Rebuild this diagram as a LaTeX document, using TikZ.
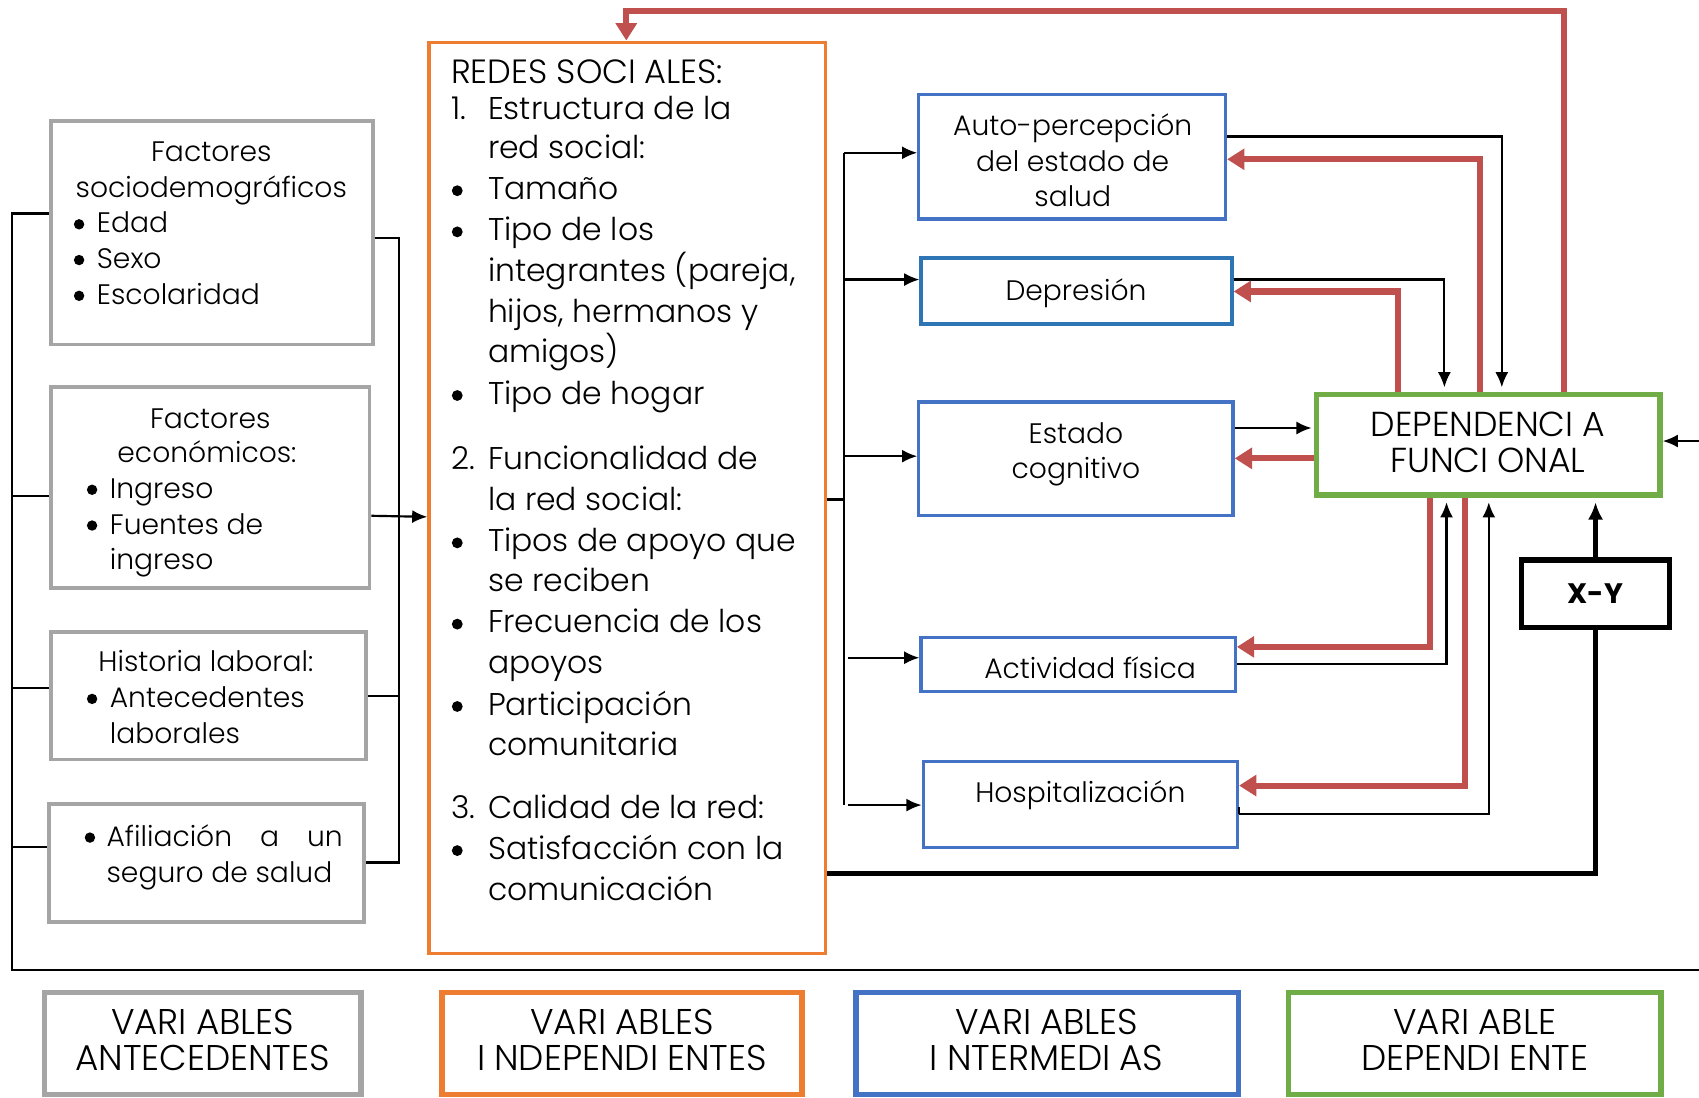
\documentclass[tikz,border=0pt]{standalone}
\usepackage{fontspec}
\setmainfont{Poppins}[UprightFont={* Light}, BoldFont={* Bold}]
\usetikzlibrary{arrows.meta,fit}
\definecolor{cgray}{HTML}{A5A5A5}
\definecolor{corange}{HTML}{ED7D31}
\definecolor{cblue}{HTML}{4472C4}
\definecolor{cbluetwo}{HTML}{2E75B6}
\definecolor{cgreen}{HTML}{70AD47}
\definecolor{cred}{HTML}{C0504D}
\newcommand\numL[1]{\llap{\makebox[17pt][l]{#1}}}
\begin{document}
\begin{tikzpicture}[x=0.5pt,y=-0.5pt,
  sfont/.style={font=\fontsize{13}{16}\selectfont},
  ofont/.style={font=\fontsize{14.5}{18}\selectfont},
  lt/.style={inner sep=0pt, anchor=base west, sfont},
  ct/.style={inner sep=0pt, anchor=base, sfont},
  olt/.style={inner sep=0pt, anchor=base west, ofont},
  grbox/.style={inner sep=0pt, draw=cgray, line width=1.75pt},
  orbox/.style={inner sep=0pt, draw=corange, line width=1.6pt},
  blbox/.style={inner sep=0pt, draw=cblue, line width=1.5pt},
  gnbox/.style={inner sep=0pt, draw=cgreen, line width=2.5pt},
  xybox/.style={inner sep=0pt, draw=black, line width=2.5pt},
  legtxt/.style={inner sep=0pt, anchor=base, font=\fontsize{16.5}{19}\selectfont},
  ln/.style={draw=black, line width=1pt},
  bk/.style={draw=black, line width=1pt, -{Latex[length=7pt,width=6pt]}},
  thk/.style={draw=black, line width=2.6pt},
  rd/.style={draw=cred, line width=2.8pt, -{Triangle[length=8pt,width=9.5pt]}},
  dot/.style={fill=black},
]
\useasboundingbox (0,0) rectangle (1568,1013);

% ---- antecedent boxes
\node[fit={(47,112)(344,318)}, grbox] (b1) {};
\node[fit={(47,357)(341,543)}, grbox] (b2) {};
\node[fit={(47,583)(338,701)}, grbox] (b3) {};
\node[fit={(45,742)(336,851)}, grbox] (b4) {};

\node[ct] (b1a) at (195,149) {Factores};
\node[ct] (b1b) at (195,182) {sociodemográficos};
\node[lt] (b1c) at (89,215) {Edad};
\node[lt] (b1d) at (89,248) {Sexo};
\node[lt] (b1e) at (89,281) {Escolaridad};
\foreach \yy in {207,240,273} \fill[dot] (73,\yy) circle[radius=2.4pt];

\node[ct] (b2a) at (194,395) {Factores};
\node[ct] (b2b) at (191,427) {económicos:};
\node[lt] (b2c) at (101,460) {Ingreso};
\node[lt] (b2d) at (101,493) {Fuentes de};
\node[lt] (b2e) at (101,526) {ingreso};
\foreach \yy in {452,485} \fill[dot] (85,\yy) circle[radius=2.4pt];

\node[ct] (b3a) at (190,620) {Historia laboral:};
\node[lt] (b3b) at (101,653) {Antecedentes};
\node[lt] (b3c) at (101,686) {laborales};
\fill[dot] (85,645) circle[radius=2.4pt];

\node[lt] (b4a) at (98,781) {\makebox[109pt][s]{Afiliación\hfill a\hfill un}};
\node[lt] (b4b) at (98,814) {seguro de salud};
\fill[dot] (83,773) circle[radius=2.4pt];

% ---- orange box
\node[fit={(396,39)(762,880)}, orbox] (orng) {};
\node[olt, font=\fontsize{15.5}{18}\selectfont] (o1) at (416,77) {REDES SOCI\hspace{0.25em}ALES:};
\node[olt] (o2) at (450,110) {\numL{1.}Estructura de la};
\node[olt] (o3) at (450,146) {red social:};
\node[olt] (o4) at (450,184) {Tamaño};
\node[olt] (o5) at (450,222) {Tipo de los};
\node[olt] (o6) at (450,260) {integrantes (pareja,};
\node[olt] (o7) at (450,298) {hijos, hermanos y};
\node[olt] (o8) at (450,335) {amigos)};
\node[olt] (o9) at (450,373) {Tipo de hogar};
\node[olt] (o10) at (450,433) {\numL{2.}Funcionalidad de};
\node[olt] (o11) at (450,471) {la red social:};
\node[olt] (o12) at (450,509) {Tipos de apoyo que};
\node[olt] (o13) at (450,546) {se reciben};
\node[olt] (o14) at (450,584) {Frecuencia de los};
\node[olt] (o15) at (450,622) {apoyos};
\node[olt] (o16) at (450,660) {Participación};
\node[olt] (o17) at (450,697) {comunitaria};
\node[olt] (o18) at (450,755) {\numL{3.}Calidad de la red:};
\node[olt] (o19) at (450,793) {Satisfacción con la};
\node[olt] (o20) at (450,831) {comunicación};
\foreach \yy in {176,214,365,501,576,652,785} \fill[dot] (422,\yy) circle[radius=2.5pt];

% ---- intermediate boxes
\node[fit={(848,87)(1131,202)}, blbox] (ap) {};
\node[fit={(850,238)(1137,299)}, blbox, draw=cbluetwo] (dp) {};
\node[fit={(848,371)(1138,476)}, blbox] (ec) {};
\node[fit={(850,588)(1140,638)}, blbox] (af) {};
\node[fit={(852,703)(1142,782)}, blbox] (ho) {};

\node[ct] (ap1) at (990,125) {Auto-percepción};
\node[ct] (ap2) at (990,158) {del estado de};
\node[ct] (ap3) at (990,191) {salud};
\node[ct] (dp1) at (993,277) {Depresión};
\node[ct] (ec1) at (993,409) {Estado};
\node[ct] (ec2) at (993,442) {cognitivo};
\node[ct] (af1) at (1006,626) {Actividad física};
\node[ct] (ho1) at (997,741) {Hospitalización};

% ---- dependent
\node[fit={(1215,364)(1532,457)}, gnbox] (df) {};
\node[legtxt, font=\fontsize{16}{19}\selectfont] (df1) at (1373,403) {DEPENDENCI\hspace{0.25em}A};
\node[legtxt, font=\fontsize{16}{19}\selectfont] (df2) at (1373,436) {FUNCI\hspace{0.25em}ONAL};

\node[fit={(1404,517)(1541,579)}, xybox] (xy) {};
\node[inner sep=0pt, font=\bfseries\fontsize{13}{16}\selectfont] (xyt) at (xy.center) {X-Y};

% ---- legend
\node[fit={(41,916)(333,1010)}, grbox, line width=2.6pt] (l1) {};
\node[fit={(408,916)(740,1010)}, orbox, line width=2.6pt] (l2) {};
\node[fit={(790,916)(1143,1010)}, blbox, line width=2.6pt] (l3) {};
\node[fit={(1189,916)(1533,1010)}, gnbox, line width=2.6pt] (l4) {};
\node[legtxt] (l1a) at (187,955) {VARI\hspace{0.25em}ABLES};
\node[legtxt] (l1b) at (187,988) {ANTECEDENTES};
\node[legtxt] (l2a) at (574,955) {VARI\hspace{0.25em}ABLES};
\node[legtxt] (l2b) at (574,988) {I\hspace{0.25em}NDEPENDI\hspace{0.25em}ENTES};
\node[legtxt] (l3a) at (966,955) {VARI\hspace{0.25em}ABLES};
\node[legtxt] (l3b) at (966,988) {I\hspace{0.25em}NTERMEDI\hspace{0.25em}AS};
\node[legtxt] (l4a) at (1361,955) {VARI\hspace{0.25em}ABLE};
\node[legtxt] (l4b) at (1361,988) {DEPENDI\hspace{0.25em}ENTE};

% ---- left bracket
\coordinate (spT) at (11,197);
\coordinate (spB) at (11,895);
\coordinate (edgeB) at (1568,895);
\draw[ln] (b1.west |- spT) -- (spT) -- (spB) -- (edgeB);
\draw[ln] (b2.west |- 0,458) -- (11,458);
\draw[ln] (b3.west |- 0,635) -- (11,635);
\draw[ln] (b4.west |- 0,782) -- (11,782);

% ---- right bracket
\coordinate (rbT) at (368,220);
\coordinate (rbB) at (368,796);
\draw[ln] (b1.east |- rbT) -- (rbT) -- (rbB) -- (b4.east |- rbB);
\draw[ln] (b3.east |- 0,642) -- (368,642);
\draw[bk] (b2.east |- 0,476) -- (orng.west |- 0,477);

% ---- orange to intermediates
\coordinate (obT) at (779,141);
\coordinate (obB) at (779,743);
\draw[ln] (orng.east |- 0,461) -- (779,461);
\draw[ln] (obT) -- (obB);
\draw[bk] (obT) -- (ap.west |- obT);
\draw[bk] (779,258) -- (dp.west |- 0,258);
\draw[bk] (779,421) -- (ec.west |- 0,421);
\draw[bk] (783,607) -- (af.west |- 0,607);
\draw[bk] (783,743) -- (ho.west |- 0,743);

% ---- feedback loops
\draw[bk, shorten >=2pt] (ap.east |- 0,126) -| (df.north -| 1386,0);
\draw[rd] (df.north -| 1366,0) |- (ap.east |- 0,147);
\draw[bk, shorten >=2pt] (dp.east |- 0,258) -| (df.north -| 1333,0);
\draw[rd] (df.north -| 1290,0) |- (dp.east |- 0,269);
\draw[bk, shorten >=1pt] (ec.east |- 0,395) -- (df.west |- 0,395);
\draw[rd] (df.west |- 0,423) -- (ec.east |- 0,423);
\draw[rd] (df.south -| 1320,0) |- (af.east |- 0,597);
\draw[bk, shorten >=2pt] (af.east |- 0,613) -| (df.south -| 1335,0);
\draw[rd] (df.south -| 1352,0) |- (ho.east |- 0,725);
\draw[ln] (ho.east |- 0,745) -- (ho.east |- 0,751);
\draw[bk, shorten >=2pt] (ho.east |- 0,751) -| (df.south -| 1374,0);

% ---- X-Y
\draw[thk, -{Latex[length=8pt,width=7pt]}, shorten >=2pt] (xy.north) -- (df.south -| xy.north);
\draw[thk] (orng.east |- 0,806) -| (xy.south);

% ---- right incoming
\coordinate (edgeR) at (1568,407);
\draw[bk] (edgeR) -- (df.east |- edgeR);

% ---- top red loop
\coordinate (topR) at (1443,10);
\coordinate (topL) at (578,10);
\draw[rd] (df.north -| topR) -- (topR) -- (topL) -- (orng.north -| topL);
\end{tikzpicture}
\end{document}
